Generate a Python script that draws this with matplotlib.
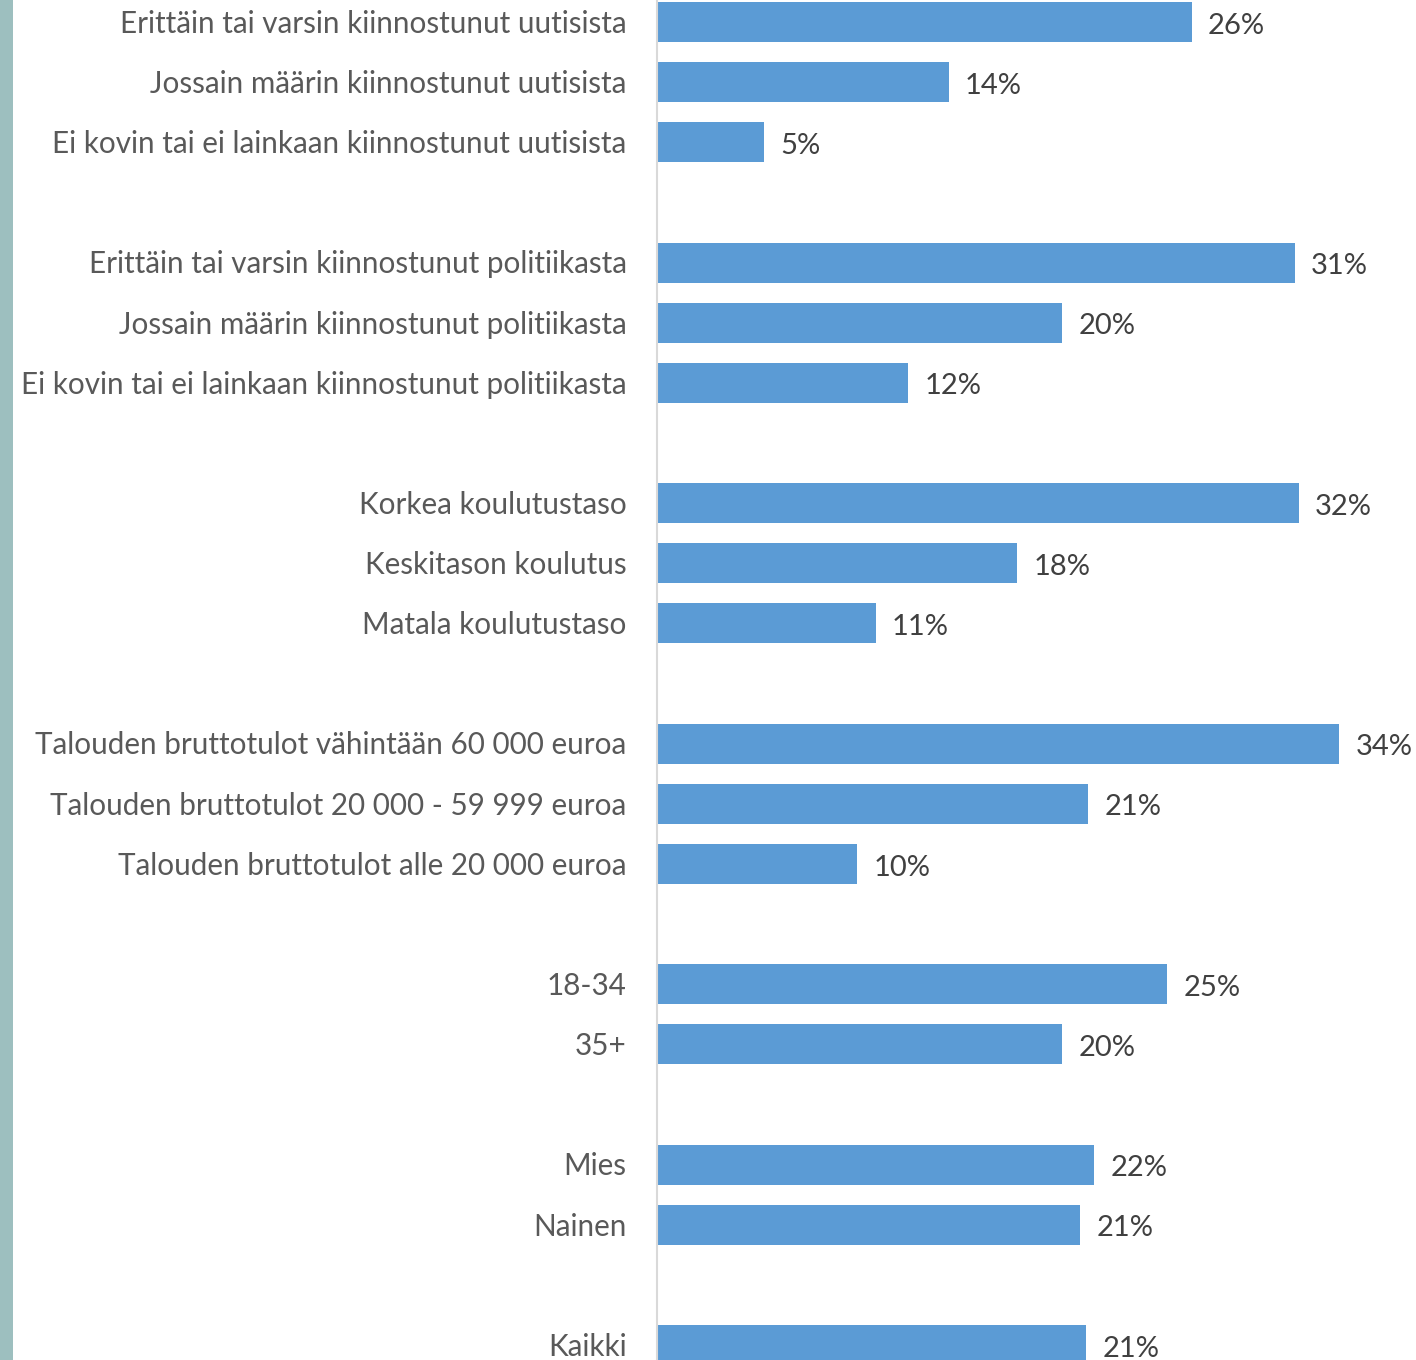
import numpy as np
import matplotlib
matplotlib.use("Agg")
import matplotlib.pyplot as plt

# rivit ylhäältä alas, None = tyhjä väli ryhmien välissä
labels = [
    "Erittäin tai varsin kiinnostunut uutisista",
    "Jossain määrin kiinnostunut uutisista",
    "Ei kovin tai ei lainkaan kiinnostunut uutisista",
    None,
    "Erittäin tai varsin kiinnostunut politiikasta",
    "Jossain määrin kiinnostunut politiikasta",
    "Ei kovin tai ei lainkaan kiinnostunut politiikasta",
    None,
    "Korkea koulutustaso",
    "Keskitason koulutus",
    "Matala koulutustaso",
    None,
    "Talouden bruttotulot vähintään 60 000 euroa",
    "Talouden bruttotulot 20 000 - 59 999 euroa",
    "Talouden bruttotulot alle 20 000 euroa",
    None,
    "18-34",
    "35+",
    None,
    "Mies",
    "Nainen",
    None,
    "Kaikki",
]
values = [26.4, 14.4, 5.3, None, 31.5, 20.0, 12.4, None, 31.7, 17.8, 10.8, None,
          33.7, 21.3, 9.9, None, 25.2, 20.0, None, 21.6, 20.9, None, 21.2]
value_labels = ["26%", "14%", "5%", None, "31%", "20%", "12%", None, "32%", "18%", "11%", None,
                "34%", "21%", "10%", None, "25%", "20%", None, "22%", "21%", None, "21%"]

W, H = 1416, 1360
plt.rcParams['font.family'] = ['Lato', 'DejaVu Sans']
fig = plt.figure(figsize=(W / 100, H / 100), dpi=100)

# vasen harmaanvihreä reunapalkki
strip = fig.add_axes([0, 0, 13 / W, 1])
strip.set_facecolor("#9DBFBF")
strip.set_xticks([])
strip.set_yticks([])
for s in strip.spines.values():
    s.set_visible(False)

ax = fig.add_axes([657 / W, 0, (W - 657) / W, 1])
rows = [i for i, v in enumerate(values) if v is not None]
vals = [values[i] for i in rows]
ax.barh(rows, vals, height=0.665, color="#5B9BD5", edgecolor="none")

for i in rows:
    ax.text(values[i] + 0.8, i + 0.06, value_labels[i], va="center", ha="left",
            fontsize=21, color="#404040")
    ax.text(-1.5, i + 0.03, labels[i], va="center", ha="right", fontsize=21.3, color="#595959")

ax.set_xlim(0, (W - 657) / 20.25)
ax.set_ylim((1360 - 22) / 60.14, -22 / 60.14)
ax.set_xticks([])
ax.set_yticks([])
for s in ["top", "right", "bottom"]:
    ax.spines[s].set_visible(False)
ax.spines["left"].set_color("#D9D9D9")
ax.spines["left"].set_linewidth(1.5)

fig.savefig("out.png", dpi=100)
